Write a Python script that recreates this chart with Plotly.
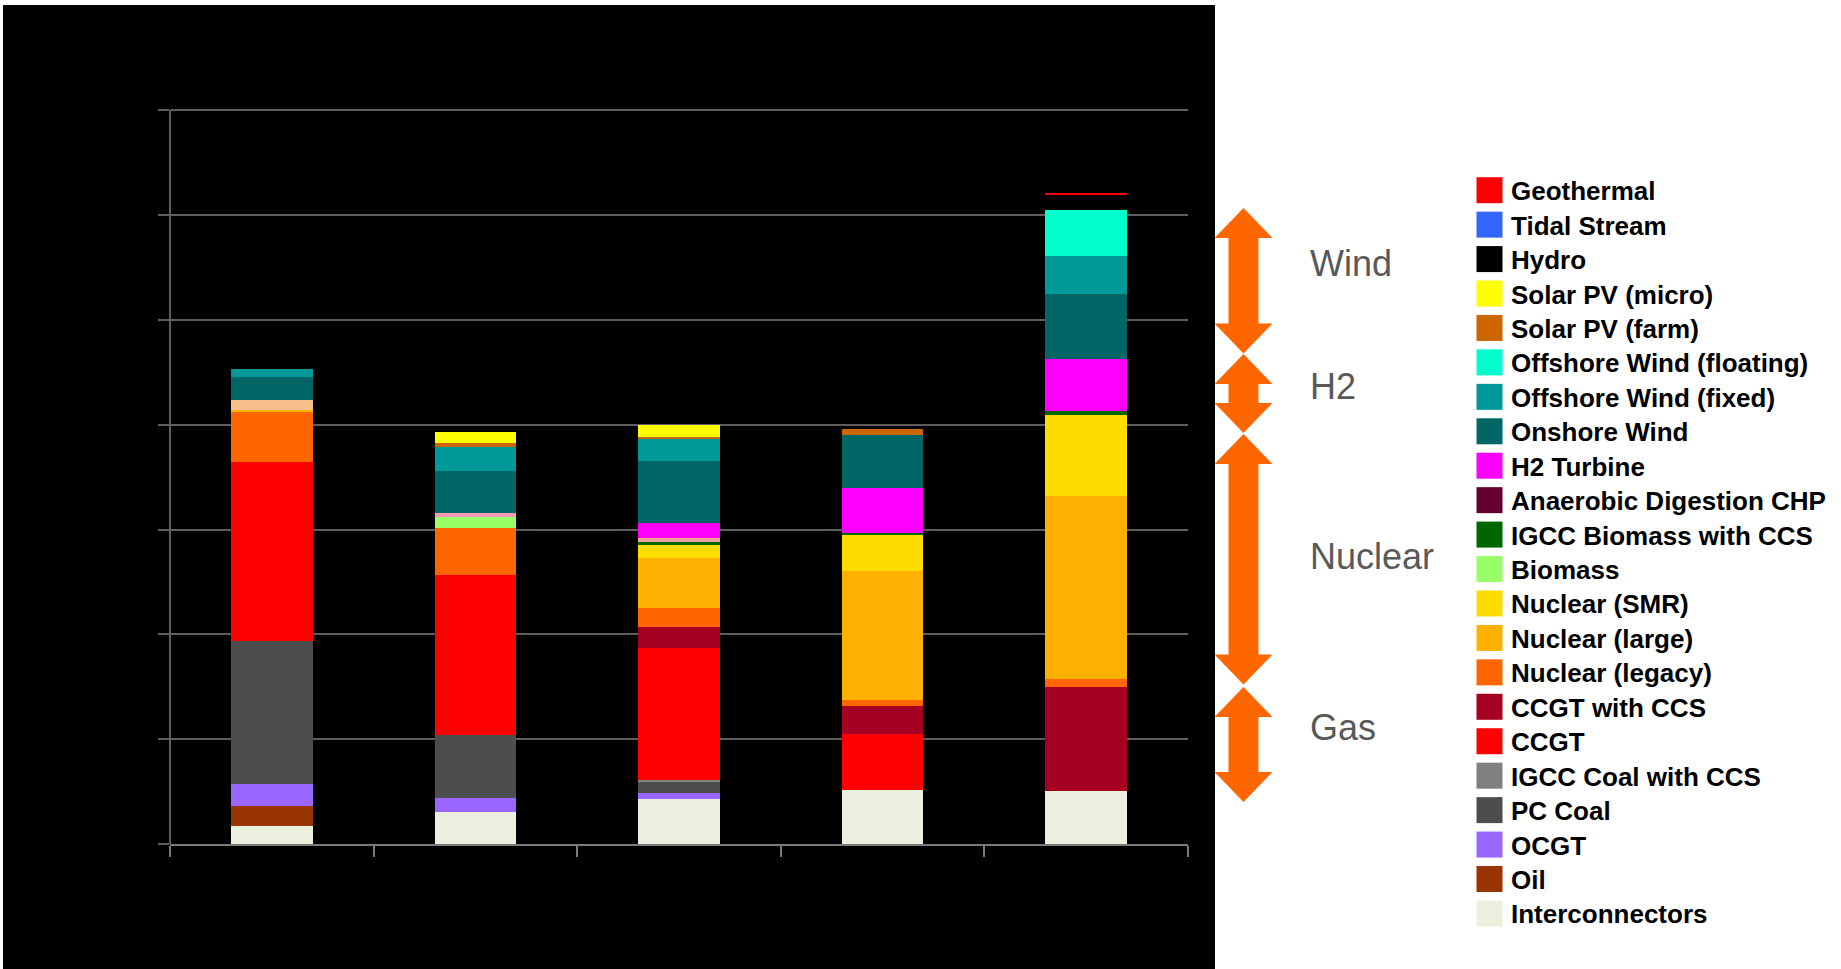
import plotly.graph_objects as go

# ---- data -----------------------------------------------------------------
scenarios = ["Scenario 1", "Scenario 2", "Scenario 3", "Scenario 4", "Scenario 5"]

# Capacity by technology, listed from the bottom of each stack upwards
interconnectors = [3.5, 6.1, 8.5, 10.3, 10.2]
oil = [3.8, 0, 0, 0, 0]
ocgt = [4.1, 2.7, 1.3, 0, 0]
pc_coal = [27.4, 12.0, 2.2, 0, 0]
igcc_coal_ccs = [0, 0, 0.3, 0, 0]
ccgt = [34.1, 30.6, 25.1, 10.7, 0]
ccgt_ccs = [0, 0, 4.0, 5.3, 19.8]
nuclear_legacy = [9.6, 8.8, 3.7, 1.2, 1.5]
nuclear_large = [0.3, 0, 9.5, 24.6, 34.9]
nuclear_smr = [0, 0, 2.5, 6.8, 15.5]
biomass = [0, 2.1, 0, 0, 0]
igcc_biomass_ccs = [0, 0, 0.6, 0.4, 0.7]
other = [2.0, 0.8, 0.7, 0, 0]
ad_chp = [0, 0, 0, 0, 0]
h2_turbine = [0, 0, 2.8, 8.7, 10.0]
onshore_wind = [4.3, 8.1, 11.9, 10.0, 12.3]
offshore_fixed = [1.6, 4.5, 4.1, 0, 7.3]
offshore_floating = [0, 0, 0, 0, 8.7]
solar_farm = [0, 0.8, 0.5, 1.1, 0]
solar_micro = [0, 2.2, 2.2, 0, 0]
hydro = [0, 0, 0, 0, 2.9]
tidal_stream = [0, 0, 0, 0, 0]
geothermal = [0, 0, 0, 0, 0.4]

other_colors = ["#F7BF8C", "#F59CB4", "#EFA39A", "#F7BF8C", "#F7BF8C"]

# (name, values, colour, shown in key)
series = [
    ("Interconnectors", interconnectors, "#EBF1DE", True),
    ("Oil", oil, "#993300", True),
    ("OCGT", ocgt, "#9966FF", True),
    ("PC Coal", pc_coal, "#4D4D4D", True),
    ("IGCC Coal with CCS", igcc_coal_ccs, "#808080", True),
    ("CCGT", ccgt, "#FF0000", True),
    ("CCGT with CCS", ccgt_ccs, "#A50021", True),
    ("Nuclear (legacy)", nuclear_legacy, "#FF6600", True),
    ("Nuclear (large)", nuclear_large, "#FFB100", True),
    ("Nuclear (SMR)", nuclear_smr, "#FFDC00", True),
    ("Biomass", biomass, "#99FF66", True),
    ("IGCC Biomass with CCS", igcc_biomass_ccs, "#006600", True),
    ("Other", other, other_colors, False),
    ("Anaerobic Digestion CHP", ad_chp, "#660033", True),
    ("H2 Turbine", h2_turbine, "#FF00FF", True),
    ("Onshore Wind", onshore_wind, "#006666", True),
    ("Offshore Wind (fixed)", offshore_fixed, "#009999", True),
    ("Offshore Wind (floating)", offshore_floating, "#00FFCC", True),
    ("Solar PV (farm)", solar_farm, "#CC6600", True),
    ("Solar PV (micro)", solar_micro, "#FFFF00", True),
    ("Hydro", hydro, "#000000", True),
    ("Tidal Stream", tidal_stream, "#3366FF", True),
    ("Geothermal", geothermal, "#FF0000", True),
]

group_labels = ["Wind", "H2", "Nuclear", "Gas"]

# ---- layout geometry (pixels) ----------------------------------------------
FIG_W, FIG_H = 1841, 969
M_L, M_R, M_T, M_B = 170, 653, 105, 125
PLOT_W = FIG_W - M_L - M_R
PLOT_H = FIG_H - M_T - M_B
BOTTOM = FIG_H - M_B
Y_MAX = 141


def px(x):
    return (x - M_L) / PLOT_W


def py(y):
    return (BOTTOM - y) / PLOT_H


fig = go.Figure()
for name, vals, color, _ in series:
    fig.add_trace(go.Bar(
        x=scenarios, y=vals, name=name,
        marker=dict(color=color, line=dict(width=0)),
        showlegend=False,
    ))

shapes = []
annotations = []

# black chart panel
shapes.append(dict(type="rect", xref="paper", yref="paper",
                   x0=px(3), x1=px(1215), y0=py(969), y1=py(5),
                   fillcolor="#000000", line=dict(width=0), layer="below"))


def double_arrow(y_top, y_bot, cx=1243.5, hw=29, sw=15, hl=30):
    pts = [
        (cx, y_top), (cx + hw, y_top + hl), (cx + sw, y_top + hl),
        (cx + sw, y_bot - hl), (cx + hw, y_bot - hl), (cx, y_bot),
        (cx - hw, y_bot - hl), (cx - sw, y_bot - hl), (cx - sw, y_top + hl),
        (cx - hw, y_top + hl),
    ]
    path = "M " + " L ".join(f"{px(a):.5f},{py(b):.5f}" for a, b in pts) + " Z"
    return dict(type="path", xref="paper", yref="paper", path=path,
                fillcolor="#FF6600", line=dict(width=0), layer="above")


arrow_spans = [(208, 353.5), (354, 433), (434, 684.5), (687, 802)]
label_y = [263, 386, 556, 727]
for (a, b), lab, ly in zip(arrow_spans, group_labels, label_y):
    shapes.append(double_arrow(a, b))
    annotations.append(dict(
        text=lab, xref="paper", yref="paper", x=px(1308), y=py(ly),
        xanchor="left", yanchor="middle", showarrow=False,
        font=dict(family="Liberation Sans, Arial, sans-serif", size=36, color="#595959"),
    ))

# key, top to bottom
key_items = [s for s in reversed(series) if s[3]]
row0, row_step = 190.2, 34.44
for i, (name, _, color, _) in enumerate(key_items):
    yc = row0 + i * row_step
    shapes.append(dict(type="rect", xref="paper", yref="paper",
                       x0=px(1476.5), x1=px(1502.5), y0=py(yc + 13), y1=py(yc - 13),
                       fillcolor=color, line=dict(width=0), layer="above"))
    annotations.append(dict(
        text=name, xref="paper", yref="paper", x=px(1509), y=py(yc + 1),
        xanchor="left", yanchor="middle", showarrow=False,
        font=dict(family="Liberation Sans, Arial, sans-serif", size=26, color="#000000",
                  weight="bold"),
    ))

axis_col = "#7a7a7a"
fig.update_layout(
    width=FIG_W, height=FIG_H,
    margin=dict(l=M_L, r=M_R, t=M_T, b=M_B, pad=0),
    barmode="stack", bargap=0.6,
    paper_bgcolor="#FFFFFF", plot_bgcolor="#000000",
    shapes=shapes, annotations=annotations,
    showlegend=False,
    xaxis=dict(type="category", tickson="boundaries", ticks="outside", ticklen=11,
               tickcolor=axis_col, tickwidth=1.5, showticklabels=False,
               showline=True, linecolor=axis_col, linewidth=1.5, showgrid=False,
               range=[-0.5, 4.5]),
    yaxis=dict(range=[0, Y_MAX], tickvals=[0, 20, 40, 60, 80, 100, 120, 140],
               ticks="outside", ticklen=11,
               tickcolor="#5e5e5e", tickwidth=1.5, showticklabels=False,
               showgrid=True, gridcolor="#5e5e5e", gridwidth=1.5,
               showline=False, zeroline=False),
)

# vertical axis line running from the top gridline down through the baseline tick
fig.add_shape(type="line", xref="paper", yref="y", x0=0, x1=0, y0=0, y1=140,
              line=dict(color=axis_col, width=1.5), layer="above")

fig.write_html("out.html", config={"displayModeBar": False})
